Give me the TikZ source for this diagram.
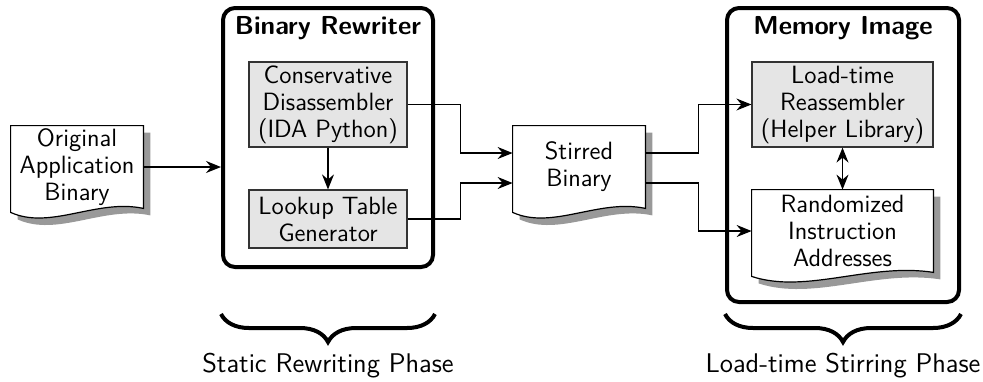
\documentclass[tikz,border=0pt]{standalone}
\usepackage{fontspec}
\usetikzlibrary{calc,arrows.meta,decorations.pathreplacing,backgrounds}

\tikzset{
  every node/.style={font=\sffamily\fontsize{12.5}{13.5}\selectfont, align=center},
  graybox/.style={draw=black!80, fill=gray!20, line width=0.6pt, inner sep=0pt},
  docbox/.style={inner sep=0pt, minimum height=41pt},
  stage/.style={draw, line width=2pt, rounded corners=6pt, inner sep=0pt},
  title/.style={font=\sffamily\bfseries\fontsize{13}{15}\selectfont},
  phaselabel/.style={font=\sffamily\fontsize{13.5}{15}\selectfont},
  arrowtip/.tip={Stealth[length=7.5pt,width=6pt,inset=2.5pt]},
  conn/.style={-arrowtip, line width=0.7pt},
  phase/.style={decorate, decoration={brace,mirror,amplitude=14pt}, line width=2pt}
}

% outline of a document node, shifted by #2
\newcommand\docoutline[2]{%
  ($(#1.north west)+(#2,#2)$) -- ($(#1.north east)+(#2,#2)$) -- ($(#1.south east)+(#2,#2)$)
  .. controls ($(#1.south east)!0.35!(#1.south west)+(#2,#2-10)$)
  and ($(#1.south east)!0.7!(#1.south west)+(#2,#2+22)$)
  .. ($(#1.south west)+(#2,#2+4)$) -- cycle}

\begin{document}
\begin{tikzpicture}[x=0.5pt, y=-0.5pt]
  \useasboundingbox (0,0) rectangle (983,381);

  % Stages
  \node[stage, minimum width=105pt, minimum height=129.5pt] (rewriter) at (328,137.5) {};
  \node[title] (rewtitle) at (328,28) {Binary Rewriter};
  \node[stage, minimum width=116pt, minimum height=147pt] (memimg) at (843,155) {};
  \node[title] (memtitle) at (843,28) {Memory Image};

  % Tool boxes
  \node[graybox, minimum width=79pt, minimum height=42.5pt] (disasm) at (328,104.5)
    {Conservative\\Disassembler\\(IDA Python)};
  \node[graybox, minimum width=79pt, minimum height=29pt] (lookup) at (328,219)
    {Lookup Table\\Generator};
  \node[graybox, minimum width=90.5pt, minimum height=42.5pt] (reasm) at (842.5,104.5)
    {Load-time\\Reassembler\\(Helper Library)};

  % Documents
  \node[docbox, minimum width=66pt] (orig) at (77,167) {Original\\Application\\Binary};
  \node[docbox, minimum width=66pt] (stirred) at (579,167) {Stirred\\Binary};
  \node[docbox, minimum width=90.5pt] (addrs) at (842.5,231)
    {Randomized\\Instruction\\Addresses};

  \begin{pgfonlayer}{background}
    \foreach \n in {orig,stirred,addrs} {
      \fill[black!40] \docoutline{\n}{7};
      \draw[fill=white, line width=0.6pt] \docoutline{\n}{0};
    }
  \end{pgfonlayer}

  % Connectors
  \draw[conn] (orig.east) -- (orig.east -| rewriter.west);
  \draw[conn] (disasm.south) -- (lookup.north);
  \draw[conn] (disasm.east) -- ++(53,0) |- ($(stirred.west)+(0,-14)$);
  \draw[conn] (lookup.east) -- ++(53,0) |- ($(stirred.west)+(0,16)$);
  \draw[conn] ($(stirred.east)+(0,-14)$) -- ++(53,0) |- (reasm.west);
  \draw[conn] ($(stirred.east)+(0,16)$) -- ++(53,0) |- (addrs.west);
  \draw[arrowtip-arrowtip, line width=0.7pt] (reasm.south) -- (addrs.north);

  % Phases
  \path (0,314) coordinate (braceline) (0,366) coordinate (phaseline);
  \draw[phase] (rewriter.west |- braceline) -- (rewriter.east |- braceline);
  \draw[phase] (memimg.west |- braceline) -- (memimg.east |- braceline);
  \node[phaselabel] (rewphase) at (rewriter.center |- phaseline) {Static Rewriting Phase};
  \node[phaselabel] (memphase) at (memimg.center |- phaseline) {Load-time Stirring Phase};
\end{tikzpicture}
\end{document}
